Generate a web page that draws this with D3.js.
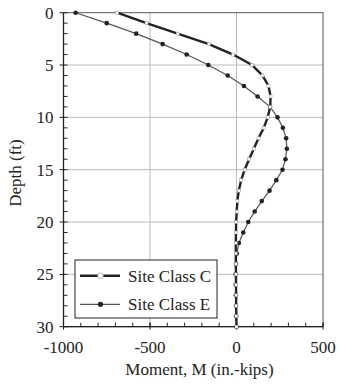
<!DOCTYPE html>
<html>
<head>
<meta charset="utf-8">
<script src="https://cdn.jsdelivr.net/npm/d3@7"></script>
<style>
  body { margin: 0; background: #fff; }
  svg text { font-family: "Liberation Serif", "Times New Roman", serif; fill: #222; }
</style>
</head>
<body>
<svg id="chart" width="340" height="385"></svg>
<script>
// depth stations (ft)
const depths = d3.range(0, 31);
// moment (in.-kips)
const siteC = [-690, -520, -340, -160, -20, 90, 150, 185, 197, 195, 180, 158, 127, 100, 73,
  47, 27, 13, 5, 1, -2, -3, -4, -4, -4, -3, -3, -2, -2, -1, 0];
const siteE = [-930, -750, -580, -427, -288, -163, -51, 43, 122, 194, 237, 268, 287, 291, 283,
  266, 230, 191, 146, 105, 68, 39, 14, 2, -3, -5, -5, -4, -3, -2, 0];
const xTicks = [-1000, -500, 0, 500];
const yTicks = [0, 5, 10, 15, 20, 25, 30];
const legendLabels = ["Site Class C", "Site Class E"];

const svg = d3.select("#chart");
const margin = { top: 12.7, right: 17, bottom: 58.3, left: 63.5 };
const width = 340, height = 385;
const fs = 17;

const x = d3.scaleLinear().domain([-1000, 500]).range([margin.left, width - margin.right]);
const y = d3.scaleLinear().domain([0, 30]).range([margin.top, height - margin.bottom]);

// grid
svg.append("g").selectAll("line")
  .data(xTicks.slice(1, -1)).join("line")
  .attr("x1", d => x(d)).attr("x2", d => x(d))
  .attr("y1", y(0)).attr("y2", y(30))
  .attr("stroke", "#bbb").attr("stroke-width", 1);
svg.append("g").selectAll("line")
  .data(yTicks.slice(1, -1)).join("line")
  .attr("x1", x(-1000)).attr("x2", x(500))
  .attr("y1", d => y(d)).attr("y2", d => y(d))
  .attr("stroke", "#bbb").attr("stroke-width", 1);

// frame
svg.append("rect")
  .attr("x", x(-1000)).attr("y", y(0))
  .attr("width", x(500) - x(-1000)).attr("height", y(30) - y(0))
  .attr("fill", "none").attr("stroke", "#555").attr("stroke-width", 1);

// left axis: major ticks crossing, minor inside
const yAxis = svg.append("g").attr("transform", `translate(${x(-1000)},0)`);
yAxis.selectAll(".minor").data(d3.range(0, 31)).join("line")
  .attr("x1", 0).attr("x2", 4)
  .attr("y1", d => y(d)).attr("y2", d => y(d))
  .attr("stroke", "#222");
yAxis.selectAll(".major").data(yTicks).join("line")
  .attr("x1", -4).attr("x2", 0)
  .attr("y1", d => y(d)).attr("y2", d => y(d))
  .attr("stroke", "#222");
yAxis.append("line").attr("y1", y(0)).attr("y2", y(30)).attr("stroke", "#222").attr("stroke-width", 1.3);
yAxis.selectAll("text").data(yTicks).join("text")
  .attr("x", -10).attr("y", d => y(d)).attr("dy", "0.35em")
  .attr("text-anchor", "end").attr("font-size", fs)
  .text(d => d);

// bottom axis
const xAxis = svg.append("g").attr("transform", `translate(0,${y(30)})`);
xAxis.selectAll(".minor").data(d3.range(-1000, 501, 100)).join("line")
  .attr("x1", d => x(d)).attr("x2", d => x(d))
  .attr("y1", -4).attr("y2", 0)
  .attr("stroke", "#222");
xAxis.selectAll(".major").data(xTicks).join("line")
  .attr("x1", d => x(d)).attr("x2", d => x(d))
  .attr("y1", -4).attr("y2", 3)
  .attr("stroke", "#222");
xAxis.append("line").attr("x1", x(-1000)).attr("x2", x(500)).attr("stroke", "#222").attr("stroke-width", 1.3);
xAxis.selectAll("text").data(xTicks).join("text")
  .attr("x", d => x(d)).attr("y", 26.5)
  .attr("text-anchor", "middle").attr("font-size", fs)
  .text(d => d);

// axis titles
svg.append("text")
  .attr("x", 199.5).attr("y", 375)
  .attr("text-anchor", "middle").attr("font-size", fs)
  .text("Moment, M (in.-kips)");
svg.append("text")
  .attr("transform", `translate(21,173) rotate(-90)`)
  .attr("text-anchor", "middle").attr("font-size", fs)
  .text("Depth (ft)");

const line = d3.line().x(d => x(d[0])).y(d => y(d[1]));
const dataC = siteC.map((v, i) => [v, depths[i]]);
const dataE = siteE.map((v, i) => [v, depths[i]]);

// Site Class E: thin gray line, black dots
svg.append("path").datum(dataE).attr("d", line)
  .attr("fill", "none").attr("stroke", "#555").attr("stroke-width", 1.2);
svg.append("g").selectAll("circle").data(dataE).join("circle")
  .attr("cx", d => x(d[0])).attr("cy", d => y(d[1])).attr("r", 2.3)
  .attr("fill", "#222");

// Site Class C: thick dark line, white markers
svg.append("path").datum(dataC).attr("d", line)
  .attr("fill", "none").attr("stroke", "#222").attr("stroke-width", 2.4);
svg.append("g").selectAll("rect").data(dataC).join("rect")
  .attr("x", d => x(d[0]) - 1.5).attr("y", d => y(d[1]) - 1.5)
  .attr("width", 3).attr("height", 3)
  .attr("fill", "#fff").attr("stroke", "#999").attr("stroke-width", 0.5);

// legend
const lg = svg.append("g").attr("transform", "translate(75,260)");
lg.append("rect").attr("width", 142).attr("height", 58)
  .attr("fill", "#fff").attr("stroke", "#222").attr("stroke-width", 1);
legendLabels.forEach((label, i) => {
  const ly = 15.7 + i * 28.6;
  const isC = i === 0;
  lg.append("line").attr("x1", 5).attr("x2", 45).attr("y1", ly).attr("y2", ly)
    .attr("stroke", isC ? "#222" : "#555").attr("stroke-width", isC ? 2.4 : 1.2);
  if (isC) {
    lg.append("circle").attr("cx", 25.5).attr("cy", ly).attr("r", 2.8)
      .attr("fill", "#fff").attr("stroke", "#999").attr("stroke-width", 0.7);
  } else {
    lg.append("circle").attr("cx", 25.5).attr("cy", ly).attr("r", 2.6)
      .attr("fill", "#222");
  }
  lg.append("text").attr("x", 53).attr("y", ly).attr("dy", "0.35em")
    .attr("font-size", fs).text(label);
});
</script>
</body>
</html>
